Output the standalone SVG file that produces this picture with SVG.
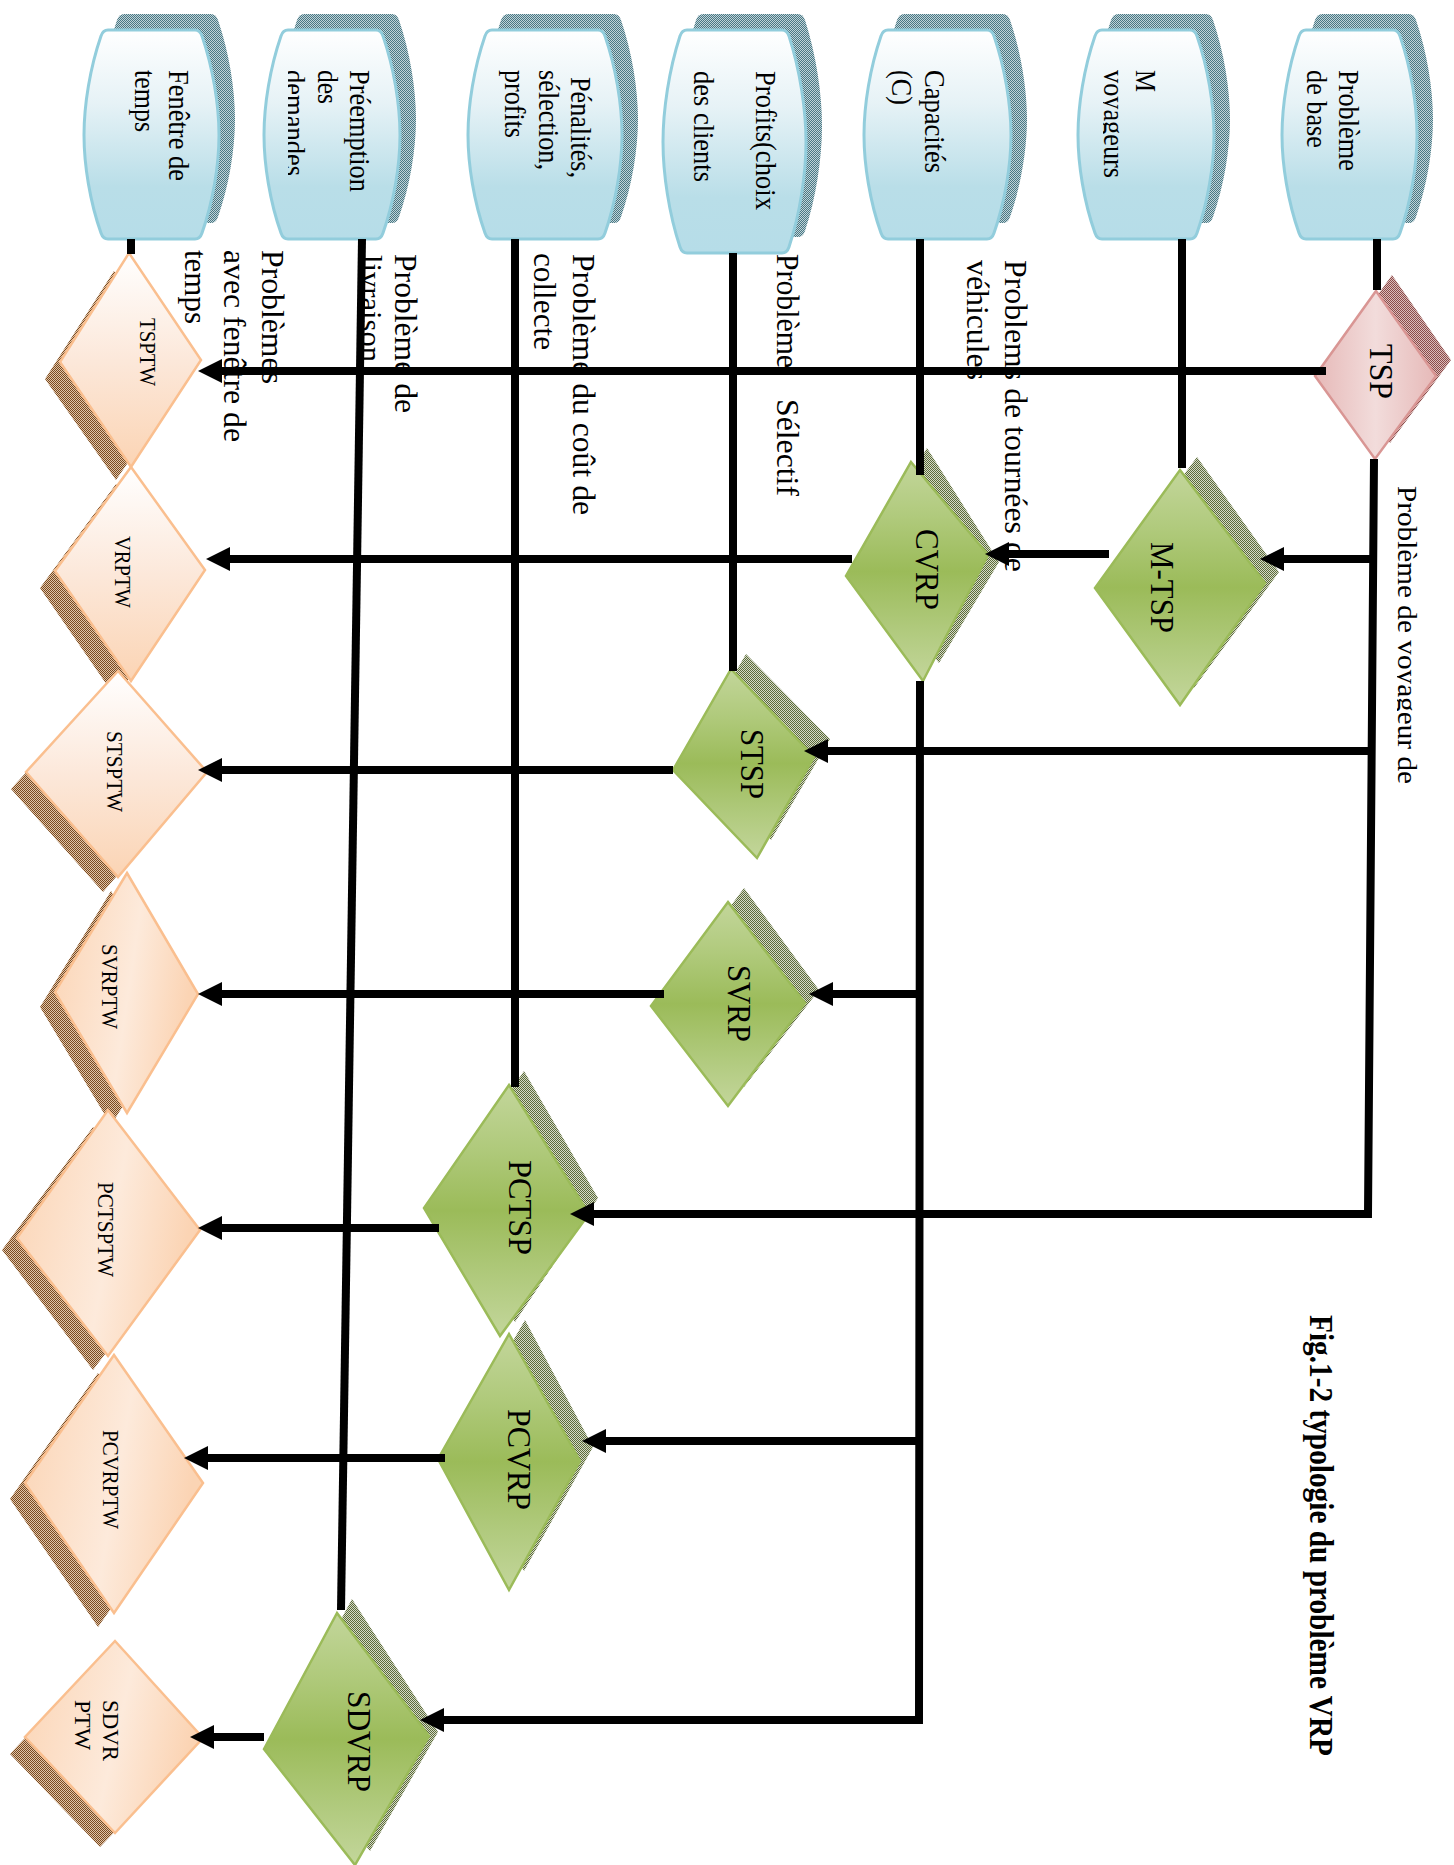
<svg xmlns="http://www.w3.org/2000/svg" width="1454" height="1865" viewBox="0 0 1454 1865">
<style>
text{font-family:"Liberation Serif","Times New Roman",serif;fill:#000}
.cyl{fill:url(#gCyl);stroke:#92cddc;stroke-width:3}
.shC{fill:url(#dC)}
.shG{fill:url(#dG)}
.shB{fill:url(#dB)}
.shP{fill:url(#dP)}
.gr{fill:url(#gGreen);stroke:#9bbb59;stroke-width:2.5}
.sv{fill:url(#gSalV);stroke:#fabf8f;stroke-width:2.5}
.sh{fill:url(#gSalH);stroke:#fabf8f;stroke-width:2.5}
.pk{fill:url(#gPink);stroke:#d99694;stroke-width:2.5}
.c{font-size:29px}
.s{font-size:23px}
.g{font-size:34px}
.l{font-size:32px}
#connectors path{fill:none;stroke:#000;stroke-width:8}
.a{marker-end:url(#arrow)}
</style>
<defs>
<linearGradient id="gCyl" x1="0" y1="0" x2="0" y2="1"><stop offset="0" stop-color="#fff"/><stop offset=".35" stop-color="#e6f2f6"/><stop offset=".75" stop-color="#b9dee8"/><stop offset="1" stop-color="#b6dde8"/></linearGradient>
<linearGradient id="gGreen" x1="0" y1="0" x2="0" y2="1"><stop offset="0" stop-color="#c3d69b"/><stop offset=".25" stop-color="#b0ca7c"/><stop offset=".5" stop-color="#9bbb59"/><stop offset=".75" stop-color="#afc97b"/><stop offset="1" stop-color="#c3d69b"/></linearGradient>
<linearGradient id="gSalV" x1="0" y1="0" x2="0" y2="1"><stop offset="0" stop-color="#fff"/><stop offset=".5" stop-color="#fce8da"/><stop offset="1" stop-color="#fbd4b4"/></linearGradient>
<linearGradient id="gSalH" x1="0" y1="0" x2="1" y2=".25"><stop offset="0" stop-color="#fbd4b4"/><stop offset=".6" stop-color="#fdeadb"/><stop offset="1" stop-color="#fbd4b4"/></linearGradient>
<linearGradient id="gPink" x1="0" y1="0" x2="1" y2="0"><stop offset="0" stop-color="#e6b9b8"/><stop offset=".5" stop-color="#f2dcdb"/><stop offset="1" stop-color="#e6b9b8"/></linearGradient>
<pattern id="dC" patternUnits="userSpaceOnUse" width="2" height="2"><rect width="2" height="2" fill="#c0d3d8"/><rect width="1" height="1" fill="#4a7884"/><rect x="1" y="1" width="1" height="1" fill="#4a7884"/></pattern>
<pattern id="dG" patternUnits="userSpaceOnUse" width="2" height="2"><rect width="2" height="2" fill="#d5dac8"/><rect width="1" height="1" fill="#5c6b3a"/><rect x="1" y="1" width="1" height="1" fill="#5c6b3a"/></pattern>
<pattern id="dB" patternUnits="userSpaceOnUse" width="2" height="2"><rect width="2" height="2" fill="#e0c4a8"/><rect width="1" height="1" fill="#7a4a20"/><rect x="1" y="1" width="1" height="1" fill="#7a4a20"/></pattern>
<pattern id="dP" patternUnits="userSpaceOnUse" width="2" height="2"><rect width="2" height="2" fill="#dcbcba"/><rect width="1" height="1" fill="#8a4c4a"/><rect x="1" y="1" width="1" height="1" fill="#8a4c4a"/></pattern>
<marker id="arrow" markerUnits="userSpaceOnUse" markerWidth="24" markerHeight="24" viewBox="0 0 24 24" refX="4" refY="12" orient="auto"><path d="M0 0L24 12L0 24Z" fill="#000"/></marker>
<clipPath id="clipDem"><rect x="288" y="60" width="60" height="130"/></clipPath>
<clipPath id="clipVoy"><rect x="1103" y="60" width="30" height="130"/></clipPath>
<clipPath id="clipVoy2"><rect x="1397" y="470" width="50" height="330"/></clipPath>
<path id="c135" d="M24 0H111Q116 0 118 6C129 38 135 75 135 105C135 135 129 172 118 203Q116 209 111 209H24Q19 209 17 203C6 172 0 135 0 105C0 75 6 38 17 6Q19 0 24 0Z"/>
<path id="c136" d="M24 0H112Q117 0 119 6C130 38 136 75 136 105C136 135 130 172 119 203Q117 209 112 209H24Q19 209 17 203C6 172 0 135 0 105C0 75 6 38 17 6Q19 0 24 0Z"/>
<path id="c154" d="M24 0H130Q135 0 137 6C148 38 154 75 154 105C154 135 148 172 137 203Q135 209 130 209H24Q19 209 17 203C6 172 0 135 0 105C0 75 6 38 17 6Q19 0 24 0Z"/>
<path id="c143" d="M24 0H119Q124 0 126 6C137 40 143 80 143 112C143 144 137 184 126 217Q124 223 119 223H24Q19 223 17 217C6 184 0 144 0 112C0 80 6 40 17 6Q19 0 24 0Z"/>
<path id="c147" d="M24 0H123Q128 0 130 6C141 38 147 75 147 105C147 135 141 172 130 203Q128 209 123 209H24Q19 209 17 203C6 172 0 135 0 105C0 75 6 38 17 6Q19 0 24 0Z"/>
</defs>

<g id="cyl-fenetre">
<use href="#c135" class="shC" x="100" y="14"/>
<use href="#c135" class="cyl" x="84" y="30"/>
<text class="c" transform="translate(169 70) rotate(90)" textLength="111" lengthAdjust="spacingAndGlyphs">Fenêtre de</text>
<text class="c" transform="translate(135 70) rotate(90)" textLength="62" lengthAdjust="spacingAndGlyphs">temps</text>
</g>
<g id="cyl-preemption">
<use href="#c136" class="shC" x="280" y="14"/>
<use href="#c136" class="cyl" x="264" y="30"/>
<text class="c" transform="translate(350 70) rotate(90)" textLength="122" lengthAdjust="spacingAndGlyphs">Préemption</text>
<text class="c" transform="translate(318 70) rotate(90)" textLength="34" lengthAdjust="spacingAndGlyphs">des</text>
<g clip-path="url(#clipDem)"><text class="c" transform="translate(285 70) rotate(90)" textLength="106" lengthAdjust="spacingAndGlyphs">demandes</text></g>
</g>
<g id="cyl-penalites">
<use href="#c154" class="shC" x="484" y="14"/>
<use href="#c154" class="cyl" x="468" y="30"/>
<text class="c" transform="translate(571 77) rotate(90)" textLength="101" lengthAdjust="spacingAndGlyphs">Pénalités,</text>
<text class="c" transform="translate(539 70) rotate(90)" textLength="100" lengthAdjust="spacingAndGlyphs">sélection,</text>
<text class="c" transform="translate(505 70) rotate(90)" textLength="68" lengthAdjust="spacingAndGlyphs">profits</text>
</g>
<g id="cyl-profits">
<use href="#c143" class="shC" x="679" y="14"/>
<use href="#c143" class="cyl" x="663" y="30"/>
<text class="c" transform="translate(756 71) rotate(90)" textLength="139" lengthAdjust="spacingAndGlyphs">Profits(choix</text>
<text class="c" transform="translate(694 71) rotate(90)" textLength="111" lengthAdjust="spacingAndGlyphs">des clients</text>
</g>
<g id="cyl-capacites">
<use href="#c147" class="shC" x="880" y="14"/>
<use href="#c147" class="cyl" x="864" y="30"/>
<text class="c" transform="translate(925 70) rotate(90)" textLength="103" lengthAdjust="spacingAndGlyphs">Capacités</text>
<text class="c" transform="translate(892 70) rotate(90)" textLength="35" lengthAdjust="spacingAndGlyphs">(C)</text>
</g>
<g id="cyl-m">
<use href="#c136" class="shC" x="1094" y="14"/>
<use href="#c136" class="cyl" x="1078" y="30"/>
<text class="c" transform="translate(1136 70) rotate(90)" textLength="22" lengthAdjust="spacingAndGlyphs">M</text>
<g clip-path="url(#clipVoy)"><text class="c" transform="translate(1104 70) rotate(90)" textLength="108" lengthAdjust="spacingAndGlyphs">voyageurs</text></g>
</g>
<g id="cyl-base">
<use href="#c135" class="shC" x="1298" y="14"/>
<use href="#c135" class="cyl" x="1282" y="30"/>
<text class="c" transform="translate(1339 70) rotate(90)" textLength="101" lengthAdjust="spacingAndGlyphs">Problème</text>
<text class="c" transform="translate(1307 70) rotate(90)" textLength="78" lengthAdjust="spacingAndGlyphs">de base</text>
</g>

<g id="node-tsp">
<polygon class="shP" points="1392,275 1451,360 1390,443 1331,360"/>
<polygon class="pk" points="1376,291 1436,376 1375,459 1315,376"/>
<text font-size="33" transform="translate(1370 344) rotate(90)" textLength="55" lengthAdjust="spacingAndGlyphs">TSP</text>
</g>
<g id="node-mtsp">
<polygon class="shG" points="1197,457 1279,572 1194,688 1110,574"/>
<polygon class="gr" points="1180,470 1265,583 1180,705 1095,588"/>
<text class="g" transform="translate(1151 542) rotate(90)" textLength="91" lengthAdjust="spacingAndGlyphs">M-TSP</text>
</g>
<g id="node-cvrp">
<polygon class="shG" points="927,448 999,562 939,663 861,562"/>
<polygon class="gr" points="911,462 988,555 923,681 846,576"/>
<text class="g" transform="translate(916 529) rotate(90)" textLength="81" lengthAdjust="spacingAndGlyphs">CVRP</text>
</g>
<g id="node-stsp">
<polygon class="shG" points="746,654 830,739 771,840 688,754"/>
<polygon class="gr" points="731,669 814,757 757,858 673,770"/>
<text class="g" transform="translate(741 729) rotate(90)" textLength="70" lengthAdjust="spacingAndGlyphs">STSP</text>
</g>
<g id="node-svrp">
<polygon class="shG" points="744,888 819,990 744,1087 667,992"/>
<polygon class="gr" points="728,902 805,1003 728,1106 651,1006"/>
<text class="g" transform="translate(728 965) rotate(90)" textLength="77" lengthAdjust="spacingAndGlyphs">SVRP</text>
</g>
<g id="node-pctsp">
<polygon class="shG" points="524,1071 598,1198 515,1322 439,1194"/>
<polygon class="gr" points="509,1085 589,1214 500,1336 424,1208"/>
<text class="g" transform="translate(509 1160) rotate(90)" textLength="95" lengthAdjust="spacingAndGlyphs">PCTSP</text>
</g>
<g id="node-pcvrp">
<polygon class="shG" points="525,1320 593,1447 524,1571 453,1445"/>
<polygon class="gr" points="509,1334 580,1461 509,1590 438,1459"/>
<text class="g" transform="translate(508 1409) rotate(90)" textLength="101" lengthAdjust="spacingAndGlyphs">PCVRP</text>
</g>
<g id="node-sdvrp">
<polygon class="shG" points="352,1599 438,1732 370,1851 279,1735"/>
<polygon class="gr" points="337,1613 429,1736 355,1865 264,1749"/>
<text class="g" transform="translate(348 1691) rotate(90)" textLength="101" lengthAdjust="spacingAndGlyphs">SDVRP</text>
</g>

<g id="node-tsptw">
<polygon class="shB" points="114,271 186,378 116,480 45,379"/>
<polygon class="sv" points="129,253 201,360 131,467 60,362"/>
<text class="s" transform="translate(140 318) rotate(90)" textLength="68" lengthAdjust="spacingAndGlyphs">TSPTW</text>
</g>
<g id="node-vrptw">
<polygon class="shB" points="116,484 190,587 116,698 40,588"/>
<polygon class="sv" points="131,467 205,570 131,681 55,571"/>
<text class="s" transform="translate(115 536) rotate(90)" textLength="72" lengthAdjust="spacingAndGlyphs">VRPTW</text>
</g>
<g id="node-stsptw">
<polygon class="shB" points="103,688 192,789 103,892 11,789"/>
<polygon class="sv" points="118,671 207,772 118,877 26,772"/>
<text class="s" transform="translate(107 731) rotate(90)" textLength="81" lengthAdjust="spacingAndGlyphs">STSPTW</text>
</g>
<g id="node-svrptw">
<polygon class="shB" points="111,891 183,1011 111,1125 40,1007"/>
<polygon class="sh" points="127,873 198,994 127,1113 55,992"/>
<text class="s" transform="translate(102 944) rotate(90)" textLength="85" lengthAdjust="spacingAndGlyphs">SVRPTW</text>
</g>
<g id="node-pctsptw">
<polygon class="shB" points="93,1127 185,1248 93,1370 2,1250"/>
<polygon class="sh" points="108,1110 200,1230 108,1356 17,1238"/>
<text class="s" transform="translate(98 1182) rotate(90)" textLength="95" lengthAdjust="spacingAndGlyphs">PCTSPTW</text>
</g>
<g id="node-pcvrptw">
<polygon class="shB" points="98,1373 188,1499 98,1627 10,1499"/>
<polygon class="sh" points="114,1355 203,1483 114,1613 25,1483"/>
<text class="s" transform="translate(103 1430) rotate(90)" textLength="99" lengthAdjust="spacingAndGlyphs">PCVRPTW</text>
</g>
<g id="node-sdvrptw">
<polygon class="shB" points="100,1658 188,1755 100,1847 10,1754"/>
<polygon class="sh" points="115,1641 203,1738 115,1833 25,1737"/>
<text class="s" transform="translate(103 1700) rotate(90)" textLength="61" lengthAdjust="spacingAndGlyphs">SDVR</text>
<text class="s" transform="translate(75 1700) rotate(90)" textLength="50" lengthAdjust="spacingAndGlyphs">PTW</text>
</g>

<g id="labels">
<text class="l" transform="translate(262 250) rotate(90)" textLength="134" lengthAdjust="spacingAndGlyphs">Problèmes</text>
<text class="l" transform="translate(224 250) rotate(90)" textLength="192" lengthAdjust="spacingAndGlyphs">avec fenêtre de</text>
<text class="l" transform="translate(185 250) rotate(90)" textLength="74" lengthAdjust="spacingAndGlyphs">temps</text>
<text class="l" transform="translate(395 254) rotate(90)" textLength="159" lengthAdjust="spacingAndGlyphs">Problème de</text>
<text class="l" transform="translate(360 255) rotate(90)" textLength="107" lengthAdjust="spacingAndGlyphs">livraison</text>
<text class="l" transform="translate(573 254) rotate(90)" textLength="261" lengthAdjust="spacingAndGlyphs">Problème du coût de</text>
<text class="l" transform="translate(534 253) rotate(90)" textLength="97" lengthAdjust="spacingAndGlyphs">collecte</text>
<text class="l" transform="translate(777 254) rotate(90)" textLength="114" lengthAdjust="spacingAndGlyphs">Problème</text>
<text class="l" transform="translate(777 399) rotate(90)" textLength="97" lengthAdjust="spacingAndGlyphs">Sélectif</text>
<text class="l" transform="translate(1005 260) rotate(90)" textLength="312" lengthAdjust="spacingAndGlyphs">Problems de tournées de</text>
<text class="l" transform="translate(967 260) rotate(90)" textLength="120" lengthAdjust="spacingAndGlyphs">véhicules</text>
<g clip-path="url(#clipVoy2)"><text font-size="28" transform="translate(1398 486) rotate(90)" textLength="298" lengthAdjust="spacingAndGlyphs">Problème de voyageur de</text></g>
<text font-size="33" font-weight="bold" transform="translate(1310 1315) rotate(90)" textLength="441" lengthAdjust="spacingAndGlyphs">Fig.1-2 typologie du problème VRP</text>
</g>

<g id="connectors">
<path d="M131 239V254"/>
<path d="M362 239L341 1610"/>
<path d="M515 239V1087"/>
<path d="M733 253V671"/>
<path d="M920 239V475"/>
<path d="M1182 239V468"/>
<path d="M1377 239V290"/>
<path class="a" d="M1326 371H218"/>
<path class="a" d="M1374 459L1368 1214H590"/>
<path class="a" d="M1374 559H1280"/>
<path class="a" d="M1109 554H1005"/>
<path class="a" d="M852 559H226"/>
<path class="a" d="M920 681L919 1720H440"/>
<path class="a" d="M1370 751H824"/>
<path class="a" d="M673 770H218"/>
<path class="a" d="M919 994H829"/>
<path class="a" d="M664 994H218"/>
<path class="a" d="M439 1228H218"/>
<path class="a" d="M919 1441H602"/>
<path class="a" d="M445 1458H204"/>
<path class="a" d="M264 1737H210"/>
</g>
</svg>
